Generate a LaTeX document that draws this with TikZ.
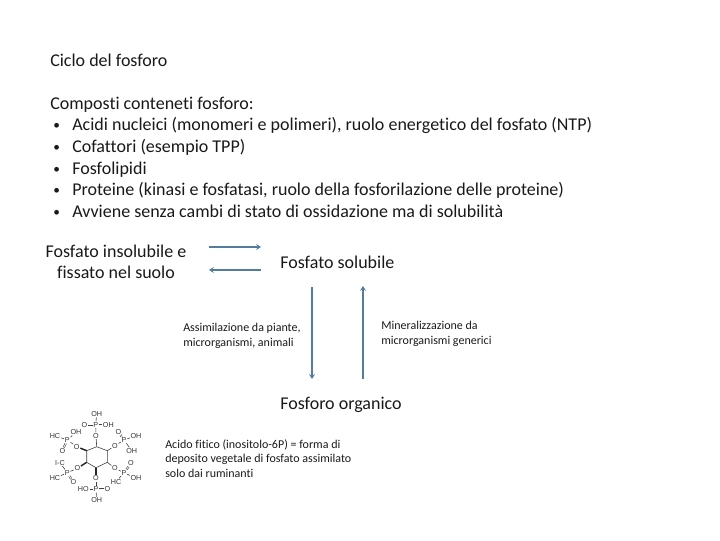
\documentclass[tikz,border=0pt]{standalone}
\usepackage{fontspec}
\setmainfont[Ligatures=NoCommon]{Carlito}
\newfontfamily\chemfont{Liberation Sans}
\usetikzlibrary{arrows.meta}
\definecolor{arr}{RGB}{84,124,156}
\definecolor{ink}{RGB}{25,25,25}
\tikzset{
 x=0.75pt,y=-0.75pt,
 flow/.style={draw=arr,line width=1.6pt,-{Stealth[length=3.6pt,width=4.4pt]}},
 big/.style={inner sep=0pt,text=ink,font=\fontsize{13.5pt}{15pt}\selectfont,anchor=base west},
 dotb/.style={inner sep=0pt,text=ink,font=\fontsize{10pt}{12pt}\selectfont,anchor=base west},
 small/.style={inner sep=0pt,text=ink,font=\fontsize{9pt}{10.9pt}\selectfont,align=left,anchor=north west},
 chem/.style={inner sep=0.4pt,text=black!80,font=\chemfont\fontsize{5.4pt}{6pt}\selectfont},
 bond/.style={draw=black!75,line width=0.45pt},
 wedge/.style={draw=black!85,line width=1.1pt}
}
\begin{document}
\begin{tikzpicture}
\useasboundingbox (0,0) rectangle (720,540);
\node[big] (t0) at (50,66) {Ciclo del fosforo};
\node[big] (t1) at (50,109) {Composti conteneti fosforo:};
\node[dotb] (b1) at (53,129) {•};
\node[big] (t2) at (72,130) {Acidi nucleici (monomeri e polimeri), ruolo energetico del fosfato (NTP)};
\node[dotb] (b2) at (53,151) {•};
\node[big] (t3) at (72,152) {Cofattori (esempio TPP)};
\node[dotb] (b3) at (53,173) {•};
\node[big] (t4) at (72,174) {Fosfolipidi};
\node[dotb] (b4) at (53,194) {•};
\node[big] (t5) at (72,195) {Proteine (kinasi e fosfatasi, ruolo della fosforilazione delle proteine)};
\node[dotb] (b5) at (53,216) {•};
\node[big] (t6) at (72,217) {Avviene senza cambi di stato di ossidazione ma di solubilità};
\node[inner sep=0pt,align=center,text=ink,font=\fontsize{13.5pt}{15.9pt}\selectfont] (ins) at (116,262) {Fosfato insolubile e\\fissato nel suolo};
\node[big] (sol) at (280,268) {Fosfato solubile};
\node[big] (org) at (280,409) {Fosforo organico};
\node[small] (ass) at (183,323) {Assimilazione da piante,\\microrganismi, animali};
\node[small] (min) at (381,321) {Mineralizzazione da\\microrganismi generici};
\node[small] (fit) at (165,439) {Acido fitico (inositolo-6P) = forma di\\deposito vegetale di fosfato assimilato\\solo dai ruminanti};
\coordinate (a1) at (209,247); \coordinate (a2) at (261,247);
\coordinate (a3) at (261,270); \coordinate (a4) at (209,270);
\coordinate (a5) at (312,287); \coordinate (a6) at (312,379);
\coordinate (a7) at (363,379); \coordinate (a8) at (363,286);
\draw[flow] (a1) -- (a2);
\draw[flow] (a3) -- (a4);
\draw[flow] (a5) -- (a6);
\draw[flow] (a7) -- (a8);
% phytic acid
\coordinate (r1) at (96.7,446.7);
\coordinate (r2) at (107.3,450.7);
\coordinate (r3) at (107.3,462.3);
\coordinate (r4) at (96,467.7);
\coordinate (r5) at (86.7,462.3);
\coordinate (r6) at (86.7,450.7);
\draw[bond] (r1) -- (r2) -- (r3);
\draw[bond] (r4) -- (r5) -- (r6) -- (r1);
\draw[bond] (r3) -- (r4);
\node[chem] (tOH) at (96.7,414) {OH};
\node[chem] (tdO) at (84.3,424.7) {O};
\node[chem] (tP) at (95.7,424.7) {P};
\node[chem] (tOHb) at (108.3,424.7) {OH};
\node[chem] (tO) at (96,435.7) {O};
\draw[bond] (tOH) -- (tP);
\draw[bond,double,double distance=0.6pt] (tdO) -- (tP);
\draw[bond] (tP) -- (tOHb);
\draw[bond] (tP) -- (tO);
\draw[bond] (tO) -- (r1);
\node[chem] (uO) at (115,445.7) {O};
\node[chem] (uP) at (124,440) {P};
\node[chem] (udO) at (118.3,431.7) {O};
\node[chem] (uOHa) at (136,435.7) {OH};
\node[chem] (uOHb) at (131.7,450.7) {OH};
\draw[bond] (r2) -- (uO);
\draw[bond] (uO) -- (uP);
\draw[bond,double,double distance=0.6pt] (udO) -- (uP);
\draw[bond] (uP) -- (uOHa);
\draw[bond] (uP) -- (uOHb);
\node[chem] (vO) at (76.7,446.7) {O};
\node[chem] (vP) at (67.3,440) {P};
\node[chem] (vHC) at (55,435.7) {HC};
\node[chem] (vOH) at (76,432.3) {OH};
\node[chem] (vdO) at (62.3,450.7) {O};
\draw[wedge] (r6) -- (vO);
\draw[bond] (vO) -- (vP);
\draw[bond] (vHC) -- (vP);
\draw[bond] (vOH) -- (vP);
\draw[bond,double,double distance=0.6pt] (vdO) -- (vP);
\node[chem] (wO) at (77.3,468.3) {O};
\node[chem] (wP) at (67.3,472.7) {P};
\node[chem] (wIC) at (60,462.7) {I-C};
\node[chem] (wHC) at (55,478.3) {HC};
\node[chem] (wdO) at (73.3,482.3) {O};
\draw[wedge] (r5) -- (wO);
\draw[bond] (wO) -- (wP);
\draw[bond] (wIC) -- (wP);
\draw[bond] (wHC) -- (wP);
\draw[bond,double,double distance=0.6pt] (wdO) -- (wP);
\node[chem] (xO) at (115,468.3) {O};
\node[chem] (xP) at (124,472.7) {P};
\node[chem] (xdO) at (131,463.3) {O};
\node[chem] (xOH) at (136,478.3) {OH};
\node[chem] (xHC) at (116,481.7) {HC};
\draw[bond] (r3) -- (xO);
\draw[bond] (xO) -- (xP);
\draw[bond,double,double distance=0.6pt] (xdO) -- (xP);
\draw[bond] (xP) -- (xOH);
\draw[bond] (xP) -- (xHC);
\node[chem] (yO) at (96,478.3) {O};
\node[chem] (yP) at (96,489.3) {P};
\node[chem] (yHO) at (83.3,489.3) {HO};
\node[chem] (ydO) at (107.3,489.3) {O};
\node[chem] (yOH) at (96.7,500) {OH};
\draw[wedge] (r4) -- (yO);
\draw[bond] (yO) -- (yP);
\draw[bond] (yHO) -- (yP);
\draw[bond,double,double distance=0.6pt] (ydO) -- (yP);
\draw[bond] (yP) -- (yOH);
\end{tikzpicture}
\end{document}
